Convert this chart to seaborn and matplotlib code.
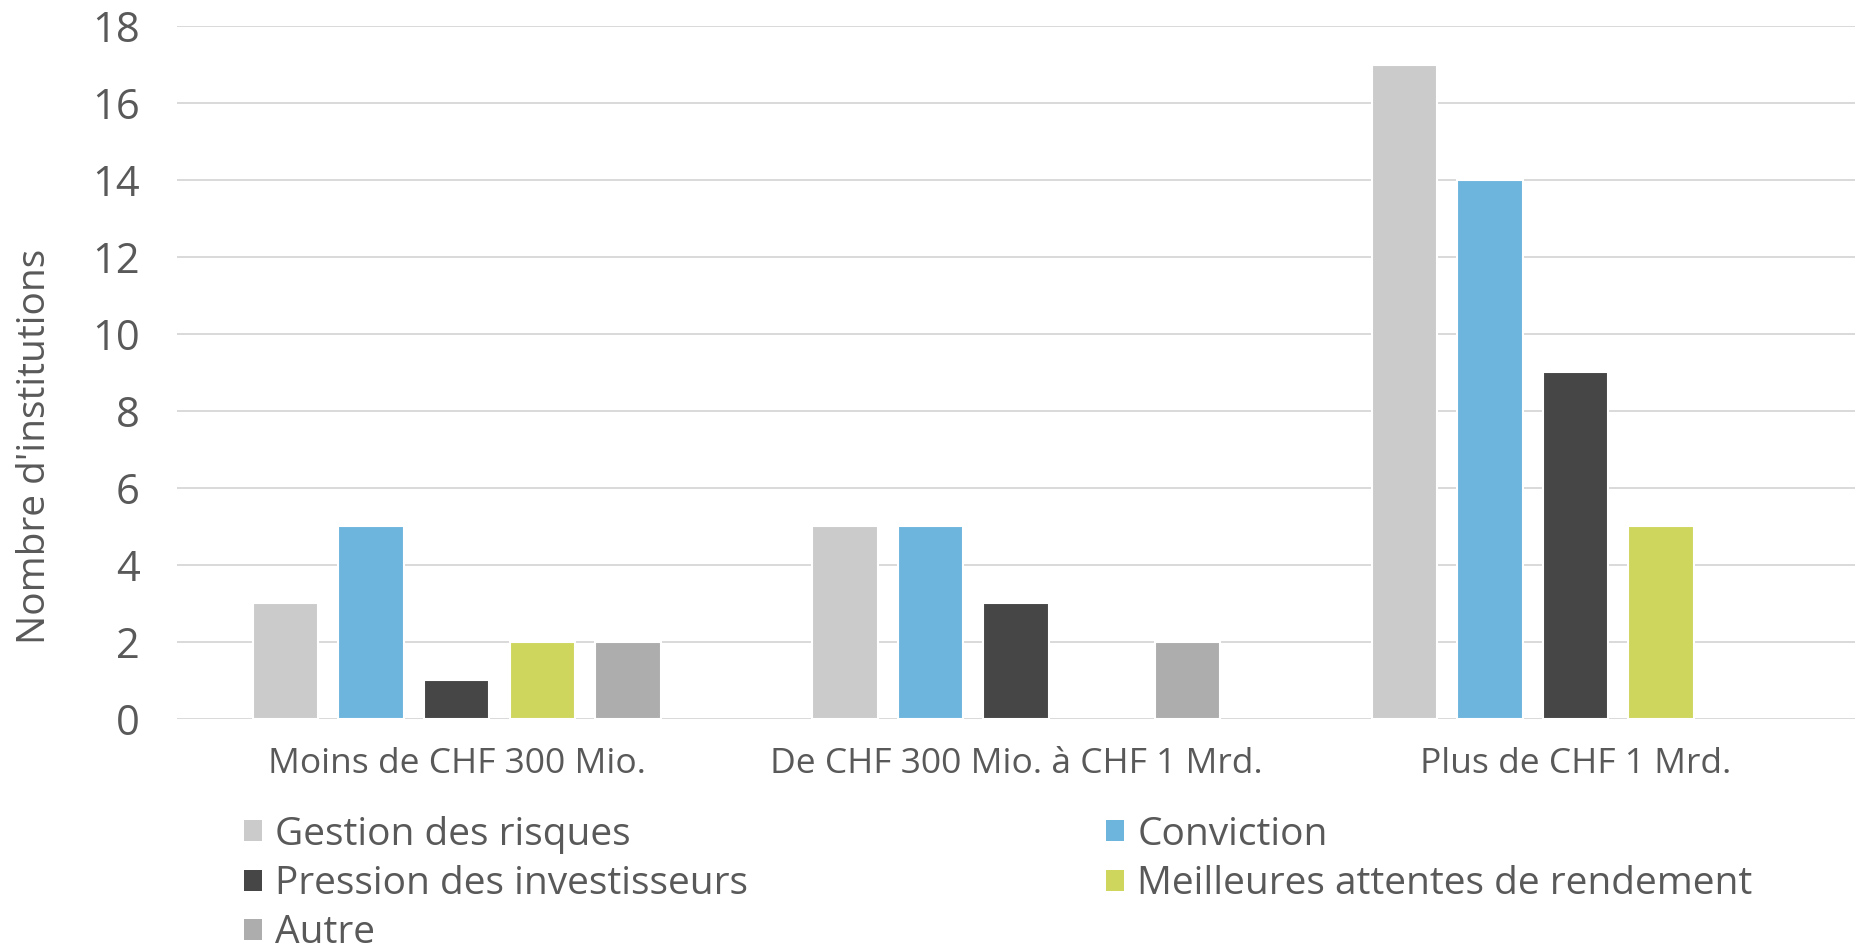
import matplotlib
matplotlib.use("Agg")
import matplotlib.pyplot as plt
import seaborn as sns
import pandas as pd
from matplotlib.patches import Patch

# Tranches de fortune des institutions
categories = ["Moins de CHF 300 Mio.", "De CHF 300 Mio. à CHF 1 Mrd.", "Plus de CHF 1 Mrd."]

# Motifs et nombre d'institutions par tranche
motifs = ["Gestion des risques", "Conviction", "Pression des investisseurs",
          "Meilleures attentes de rendement", "Autre"]
gestion_des_risques = [3, 5, 17]
conviction = [5, 5, 14]
pression_investisseurs = [1, 3, 9]
meilleures_attentes = [2, 0, 5]
autre = [2, 2, 0]

yticks = [0, 2, 4, 6, 8, 10, 12, 14, 16, 18]
ylabel = "Nombre d'institutions"

colors = ["#CBCBCB", "#6EB5DE", "#464646", "#CED65E", "#ADADAD"]
text_color = "#595959"
grid_color = "#D9D9D9"

series = [gestion_des_risques, conviction, pression_investisseurs, meilleures_attentes, autre]
rows = []
for motif, vals in zip(motifs, series):
    for cat, v in zip(categories, vals):
        rows.append({"Tranche": cat, "Motif": motif, "Nombre": v})
df = pd.DataFrame(rows)

sns.set_theme(style="white")
plt.rcParams["font.family"] = ["Open Sans", "DejaVu Sans"]

fig = plt.figure(figsize=(18.64, 9.49), dpi=100)
ax = fig.add_axes([0.095, 0.2424, 0.9002, 0.7302])

sns.barplot(data=df, x="Tranche", y="Nombre", hue="Motif", order=categories,
            hue_order=motifs, palette=colors, width=0.765, gap=0.236,
            edgecolor="white", linewidth=1.5, saturation=1, legend=False, ax=ax)

for p in ax.patches:
    if p.get_height() == 0:
        p.set_linewidth(0)

ax.set_ylim(0, 18)
ax.set_xlim(-0.5, 2.5)
ax.set_yticks(yticks)
ax.set_yticklabels([str(t) for t in yticks])
ax.yaxis.grid(True, color=grid_color, linewidth=1.4)
ax.set_axisbelow(True)
for s in ax.spines.values():
    s.set_visible(False)

ax.tick_params(axis="y", length=0, pad=27, labelsize=30, labelcolor=text_color)
ax.tick_params(axis="x", length=0, pad=20, labelsize=25.5, labelcolor=text_color)
ax.set_xlabel("")
ax.set_ylabel(ylabel, fontsize=28, color=text_color)
ax.yaxis.set_label_coords(-0.0734, 0.394)

# Légende en deux colonnes, lue ligne par ligne
order = [0, 2, 4, 1, 3]
handles = [Patch(facecolor=colors[i], edgecolor="none") for i in order]
labels = [motifs[i] for i in order]
fig.legend(handles, labels, loc="upper left", bbox_to_anchor=(0.131, 0.1404),
           bbox_transform=fig.transFigure, ncol=2, frameon=False,
           fontsize=28, labelcolor=text_color, handlelength=0.45, handleheight=0.45,
           handletextpad=0.35, labelspacing=0.29, columnspacing=9.2,
           borderaxespad=0, borderpad=0)

fig.savefig("out.png", dpi=100, facecolor="white")
